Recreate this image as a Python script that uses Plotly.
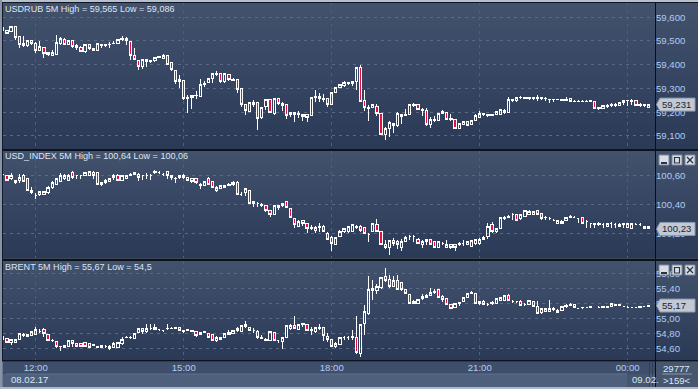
import pandas as pd
import plotly.graph_objects as go
from plotly.subplots import make_subplots

# 5-minute candles, starting 2017-02-08 11:20. Rows: open, high, low, close
# USDRUB in thousandths above 59
usdrub_rows = [
(544,556,544,556),(544,547,533,533),(540,565,537,563),(563,565,505,516),(519,522,472,486),(482,521,476,488),(482,503,476,502),(500,505,484,489),
(490,497,451,460),(460,500,460,475),(474,476,430,446),(441,455,437,451),(440,460,440,453),(444,526,444,492),(488,516,483,509),(507,511,483,486),
(485,505,485,502),(502,504,472,476),(472,488,462,479),(472,479,453,455),(454,486,451,486),(485,488,462,468),(461,472,460,467),(461,493,460,490),
(483,486,472,485),(483,486,475,485),(485,494,472,486),(488,502,486,490),(489,508,489,507),(506,521,502,509),(511,515,485,503),(499,500,420,440),
(440,472,420,422),(419,420,378,392),(392,423,381,423),(423,425,392,413),(413,419,409,419),(419,433,412,429),(431,435,427,434),(426,446,426,440),
(440,441,399,403),(409,410,374,378),(377,378,319,328),(329,357,304,339),(335,336,252,256),(257,273,198,262),(260,270,215,270),(269,291,255,271),
(266,339,262,318),(316,332,308,319),(325,343,325,343),(342,365,322,364),(360,374,353,365),(361,367,325,328),(328,364,325,361),(358,360,333,336),
(332,342,331,337),(336,339,283,297),(298,300,224,231),(233,235,189,207),(203,242,203,242),(231,252,224,242),(242,243,125,173),(176,221,172,221),
(224,256,210,252),(252,255,198,199),(196,259,189,259),(259,260,231,235),(238,243,205,228),(231,234,172,186),(198,199,179,189),(191,198,159,197),
(190,203,175,196),(189,190,165,182),(189,190,159,177),(186,263,186,263),(262,294,241,267),(267,280,245,256),(254,277,245,259),(259,260,224,231),
(232,284,232,284),(284,305,284,305),(302,318,300,318),(311,332,308,326),(322,327,315,326),(329,330,311,321),(329,390,294,390),(390,399,245,245),
(250,294,205,219),(215,231,165,219),(221,235,220,231),(225,235,186,193),(196,197,106,106),(106,139,83,132),(131,163,96,155),(152,153,114,144),
(142,200,139,193),(182,190,149,190),(187,214,187,191),(190,234,190,234),(227,239,220,233),(231,235,211,211),(208,219,184,211),(208,217,142,148),
(148,179,134,170),(163,182,159,170),(165,196,165,196),(196,208,196,201),(197,201,168,169),(171,193,165,173),(170,171,131,131),(131,151,131,151),
(148,162,148,162),(162,163,146,146),(148,165,148,165),(166,191,166,186),(177,203,174,196),(189,197,184,193),(186,194,180,189),(186,190,186,190),
(190,201,190,201),(191,213,191,213),(197,215,194,208),(198,263,196,252),(249,255,245,255),(248,262,243,262),(262,270,257,264),(258,265,258,264),
(261,262,250,258),(257,266,253,260),(257,271,249,264),(257,260,252,260),(256,263,248,258),(253,256,239,255),(252,256,245,254),(252,254,252,253),
(251,256,246,252),(251,263,248,255),(256,256,246,246),(246,252,246,247),(245,253,241,247),(245,252,241,247),(245,253,241,247),(246,253,241,248),
(245,246,214,217),(215,220,211,220),(214,227,214,227),(224,235,218,229),(229,238,221,232),(229,238,224,232),(228,243,228,243),(243,252,231,248),
(248,250,227,250),(246,256,229,249),(248,248,228,228),(229,240,222,232),(228,235,222,231),(221,232,221,232),
]
# USD_INDEX in hundredths above 100
usd_index_rows = [
(61,62,60,61),(60,60,56,57),(58,62,57,60),(57,57,54,55),(57,61,55,59),(60,61,56,56),(58,58,50,50),(50,52,47,48),
(46,48,44,46),(47,49,46,49),(47,49,47,49),(48,53,47,52),(52,56,51,55),(54,58,54,58),(56,62,56,60),(58,61,57,60),
(57,61,57,60),(62,63,58,59),(60,60,58,60),(60,60,58,60),(60,62,60,62),(60,63,60,63),(62,63,58,60),(62,62,54,54),
(54,55,53,55),(55,58,54,57),(56,58,56,58),(59,61,57,60),(60,61,56,57),(57,60,57,60),(58,60,58,60),(60,62,60,61),
(61,62,61,62),(61,62,56,59),(60,60,57,60),(60,62,58,60),(60,61,57,60),(62,64,61,63),(62,63,61,62),(61,62,60,61),
(63,63,58,60),(60,60,57,59),(58,59,55,58),(59,60,58,60),(59,61,58,60),(59,59,57,57),(58,58,55,56),(58,58,54,55),
(54,55,51,53),(53,56,53,56),(58,59,54,54),(56,56,52,52),(50,53,49,52),(51,53,51,53),(52,53,52,53),(53,55,53,54),
(54,56,53,55),(55,56,47,47),(47,49,46,47),(48,51,46,51),(50,50,41,41),(41,42,38,42),(41,42,38,41),(39,41,38,40),
(39,39,35,36),(36,36,31,33),(33,39,33,39),(38,39,36,39),(39,41,38,41),(42,42,38,38),(37,37,31,31),(30,30,24,26),
(25,29,25,28),(29,29,25,27),(27,27,20,23),(23,26,22,24),(22,25,20,24),(24,27,21,25),(25,26,21,21),(20,21,15,16),
(17,18,8,13),(12,17,12,17),(18,22,18,21),(21,24,20,23),(21,25,20,25),(21,26,21,26),(25,26,23,24),(25,26,21,22),
(24,24,20,20),(19,20,14,19),(21,27,21,27),(26,30,21,21),(21,21,12,12),(12,15,9,10),(10,15,5,15),(15,17,11,13),
(14,15,9,12),(10,16,8,14),(14,18,14,17),(18,19,15,18),(18,19,14,18),(16,17,13,13),(12,15,10,14),(16,16,12,14),
(16,16,12,12),(14,14,10,10),(10,14,10,14),(13,14,12,13),(10,15,10,12),(12,12,9,10),(12,12,8,10),(12,14,11,13),
(13,15,11,13),(12,14,12,14),(11,15,11,15),(13,16,12,16),(13,17,12,16),(16,18,16,17),(18,27,16,25),(26,28,20,21),
(21,23,20,23),(23,31,23,31),(31,32,29,30),(31,33,31,32),(33,34,29,33),(33,33,29,29),(30,33,29,33),(32,36,32,36),
(33,36,33,35),(33,35,33,35),(36,36,33,33),(34,34,29,30),(31,32,29,31),(30,31,29,30),(29,30,29,29),(27,29,27,29),
(27,29,27,28),(29,31,29,31),(31,33,31,32),(31,32,31,31),(30,30,27,30),(31,31,27,27),(28,29,24,28),(27,27,24,27),
(26,27,24,27),(26,28,25,27),(26,27,24,26),(25,27,25,27),(27,28,24,27),(26,27,24,26),(25,27,25,26),(26,27,24,27),
(24,27,24,27),(23,27,23,27),(26,27,26,26),(26,27,25,26),(25,25,23,23),(25,25,23,23),
]
# BRENT in hundredths above 54; None where the feed has no candle
brent_rows = [
(72,76,71,76),(73,73,68,68),(68,72,65,72),(68,72,68,72),(72,80,71,80),(79,81,75,77),(76,79,76,79),(77,83,76,83),
(78,89,78,85),(83,86,80,83),(85,87,75,80),(78,78,71,71),(71,72,69,70),(69,70,61,62),(63,63,57,62),(64,64,61,61),
(62,70,62,70),(71,71,62,67),(66,66,63,63),(67,67,62,62),(68,68,62,62),(67,67,61,61),(65,66,63,64),(61,63,61,63),
(61,64,61,64),(62,65,61,62),(63,65,58,60),(61,68,61,67),(61,69,61,68),(67,75,65,72),(74,76,74,75),(74,76,72,75),
(73,80,73,80),(81,87,81,87),(87,87,79,82),(83,92,81,87),(87,93,85,87),(88,93,85,85),(85,86,83,85),(84,85,82,84),
(86,93,85,87),(86,88,86,87),(86,88,86,88),(88,88,84,84),(84,84,80,82),(85,85,84,84),(84,84,83,83),(82,82,75,77),
(78,82,78,81),(81,83,80,82),(80,80,74,75),(78,78,71,71),(71,77,69,75),(75,75,72,72),(75,80,74,80),(79,84,79,81),
(80,84,80,84),(84,89,82,87),(83,90,83,90),(92,96,87,89),(88,88,84,84),(84,87,81,84),(83,84,72,75),(73,78,72,74),
(71,74,70,72),(71,82,71,82),(81,81,71,71),(71,71,67,71),(69,74,59,74),(74,90,74,90),(87,92,84,91),(91,103,87,87),
(85,92,84,92),(92,94,88,93),(92,92,83,84),(84,89,78,85),(83,88,81,88),(87,92,84,88),(88,89,70,77),(76,80,68,72),
(72,72,62,62),(62,68,60,67),(65,75,65,75),(75,76,71,75),(75,76,71,75),(76,85,71,75),(74,103,53,54),(53,92,49,92),
(93,118,78,109),(107,156,104,139),(137,151,125,140),(137,146,133,142),(141,155,139,155),(156,167,148,150),(152,158,140,142),(143,157,142,151),
(150,158,139,139),(148,148,136,138),(139,139,133,133),(132,133,120,120),(120,125,120,122),(120,125,120,125),(126,133,125,129),(128,133,128,131),
(131,140,131,135),(135,139,133,136),(138,138,127,128),(129,131,122,125),(127,127,119,119),(119,119,113,113),(114,120,114,120),(120,122,116,121),
(122,128,122,128),(128,134,128,133),(133,137,133,135),(133,133,120,120),(122,122,118,120),(123,124,118,118),(118,120,116,118),(120,123,118,121),
(120,126,120,126),(124,128,124,128),(124,130,124,130),(130,132,124,124),(123,124,121,123),(122,122,121,122),(122,124,116,117),(119,121,116,119),
(119,124,119,124),(122,122,116,116),(116,123,107,107),(108,113,106,113),(109,114,108,113),(109,125,108,113),(112,115,110,113),(108,112,108,111),
(110,116,110,116),(116,119,114,117),(117,121,117,119),(118,118,114,115),(113,114,113,113),(114,114,113,114),(115,115,114,115),(115,116,115,116),
None,(115,116,115,115),(114,116,114,116),(115,116,115,116),(116,120,116,120),(117,119,117,119),(117,119,117,118),(116,117,115,116),
(115,116,114,115),(115,115,114,115),(115,115,115,115),(115,117,115,116),(116,117,116,116),(116,117,116,117),
]
usdrub_ticks = [59.1, 59.2, 59.3, 59.4, 59.5, 59.6]
usd_index_ticks = [100.2, 100.4, 100.6]
brent_ticks = [54.6, 54.8, 55.0, 55.2, 55.4, 55.6]
titles = ["USDRUB 5M High = 59,565 Low = 59,086",
          "USD_INDEX 5M High = 100,64 Low = 100,06",
          "BRENT 5M High = 55,67 Low = 54,5"]
last_labels = ["59,231", "100,23", "55,17"]
times = pd.date_range("2017-02-08 11:20", periods=158, freq="5min")

W, H = 698, 389
FONT = "Liberation Sans"
TICK = "#b0ccf2"
TITLE = "#dbe6f5"
FS = 9.6
TS = 9.05
def fx(p): return p / W
def fy(p): return 1 - p / H

def unpack(rows, base, div):
    kept = [(t, r) for t, r in zip(times, rows) if r is not None]
    x = [t for t, _ in kept]
    return x, [[base + r[i] / div for _, r in kept] for i in range(4)]

panels = [
    (usdrub_rows, 59, 1000, usdrub_ticks, (3, 149), (59.045, 59.660), ".3f"),
    (usd_index_rows, 100, 100, usd_index_ticks, (151, 258), (100.028, 100.772), ".2f"),
    (brent_rows, 54, 100, brent_ticks, (261, 360), (54.444, 55.764), ".2f"),
]

fig = make_subplots(rows=3, cols=1, shared_xaxes=True, vertical_spacing=0.01)
shapes, annos = [], []

def rect(x0, y0, x1, y1, fill, layer="below", line=None, lw=0):
    shapes.append(dict(type="rect", xref="paper", yref="paper", x0=fx(x0), x1=fx(x1),
                       y0=fy(y0), y1=fy(y1), fillcolor=fill, layer=layer,
                       line=dict(width=lw, color=line or fill)))

def seg(x0, y0, x1, y1, color, w=1, layer="above"):
    shapes.append(dict(type="line", xref="paper", yref="paper", x0=fx(x0), x1=fx(x1),
                       y0=fy(y0), y1=fy(y1), layer=layer, line=dict(width=w, color=color)))

def text(x, y, s, color=TITLE, size=TS, xanchor="left"):
    annos.append(dict(xref="paper", yref="paper", x=fx(x), y=fy(y), text=s, showarrow=False,
                      xanchor=xanchor, yanchor="middle", borderpad=0,
                      font=dict(family=FONT, size=size, color=color)))

def gradient(y0, y1, top=(66, 81, 108), bot=(43, 58, 87), n=24, x0=0, x1=W):
    for i in range(n):
        f = i / (n - 1)
        c = tuple(round(a + (b - a) * f) for a, b in zip(top, bot))
        rect(x0, y0 + (y1 - y0) * i / n, x1, y1, "rgb(%d,%d,%d)" % c)

rect(0, 0, W, H, "#6d7b92")
for (_, _, _, _, (a, b), _, _) in panels:
    gradient(a, b)

for i, (rows, base, div, ticks, (a, b), yr, fmt) in enumerate(panels, start=1):
    x, (o, h, l, c) = unpack(rows, base, div)
    fig.add_trace(go.Candlestick(
        x=x, open=o, high=h, low=l, close=c, whiskerwidth=0, hoverinfo="skip",
        increasing=dict(line=dict(color="#ffffff", width=1), fillcolor="rgba(0,0,0,0)"),
        decreasing=dict(line=dict(color="#ffffff", width=1), fillcolor="#e3103f"),
        showlegend=False), row=i, col=1)
    fig.update_yaxes(row=i, col=1, domain=[fy(b), fy(a)], range=list(yr), side="right",
                     tickvals=ticks, tickformat=fmt, ticks="", showgrid=True,
                     griddash="3px,4px", gridcolor="#5a6a86", gridwidth=1, zeroline=False,
                     tickfont=dict(family=FONT, size=FS, color=TICK), showline=False)
    fig.update_xaxes(row=i, col=1, domain=[fx(3), fx(655)],
                     range=["2017-02-08 11:20:12", "2017-02-09 00:33:12"],
                     rangeslider_visible=False, tick0="2017-02-08 12:00", dtick=10800000,
                     showgrid=True, griddash="3px,4px", gridcolor="#4f5f7c", gridwidth=1,
                     zeroline=False, ticks="", tickformat="%H:%M", showline=False,
                     showticklabels=(i == 3),
                     tickfont=dict(family=FONT, size=FS, color=TICK))
    text(4, a + 5.5, titles[i - 1])
    # last-price tag
    yname = "y" if i == 1 else "y%d" % i
    shapes.append(dict(type="path", xref="paper", xsizemode="pixel", xanchor=0,
                       yref=yname, ysizemode="pixel", yanchor=c[-1], layer="above",
                       path="M 656.5 0 L 660 6.5 L 695 6.5 L 695 -6.5 L 660 -6.5 Z",
                       fillcolor="#c2c9d5", line=dict(width=1, color="#8c98ac")))
    annos.append(dict(xref="paper", yref=yname, x=fx(660.5), y=c[-1], text=last_labels[i - 1],
                      showarrow=False, xanchor="left", yanchor="middle", borderpad=0,
                      font=dict(family=FONT, size=FS, color="#1d2430")))

# frame and separators
rect(0, 0, W, 2, "#b6bfcc", "above")
rect(0, 2, W, 3, "#111722", "above")
rect(0, 149, W, 151, "#0d121c", "above")
rect(0, 258.5, W, 261, "#0d121c", "above")
rect(0, 360, W, 361.5, "#0d121c", "above")
rect(0, 0, 2, H, "#8693a8", "above")
rect(2, 3, 3, 360, "#141a26", "above")
rect(655, 3, 656, 387, "#0a0e16", "above")
# bottom strips
rect(3, 361.5, 655, 374, "#3f4f6b")
rect(3, 374, 655, 387, "#4f607c")
rect(656, 361.5, W, 387, "#46566f")
rect(0, 387, W, H, "#aeb8c8", "above")
seg(6, 374, 627, 374, "#5f7090", layer="below")
rect(627, 374, 649, 387, "#46566f")
seg(649.5, 362, 649.5, 387, "#33415a", layer="below")
seg(652.5, 362, 652.5, 387, "#33415a", layer="below")
seg(662, 374, 692, 374, "#8a98ae", layer="above")
text(10, 379.5, "08.02.17", size=FS)
text(630.5, 379.5, "09.02.", size=FS)
text(676.5, 368, "29777", xanchor="center", size=FS)
text(676.5, 380.5, ">159<", xanchor="center", size=FS)

# window buttons on the lower two panels
for top in (155, 265):
    for k, left in enumerate((659, 672, 685)):
        rect(left, top, left + 10, top + 10, "#d9dde4", "above", "#7c889c", 1)
        g = "#2a3344"
        if k == 0:
            rect(left + 2, top + 7, left + 8, top + 9, g, "above")
        elif k == 1:
            rect(left + 2.5, top + 2.5, left + 7.5, top + 8, "rgba(0,0,0,0)", "above", g, 1.2)
        else:
            seg(left + 2, top + 2, left + 8, top + 8, g, 1.2)
            seg(left + 8, top + 2, left + 2, top + 8, g, 1.2)

fig.update_layout(width=W, height=H, margin=dict(l=0, r=0, t=0, b=0), separators=",.",
                  paper_bgcolor="#46566f", plot_bgcolor="rgba(0,0,0,0)", showlegend=False,
                  shapes=shapes, annotations=annos, font=dict(family=FONT), boxgap=0.25)
fig.write_html("out.html", config={"displayModeBar": False},
               post_script="document.body.style.margin='0';document.documentElement.style.overflow='hidden';"
                           "document.querySelectorAll('.boxlayer path').forEach(function(p){p.style.shapeRendering='crispEdges';});")
